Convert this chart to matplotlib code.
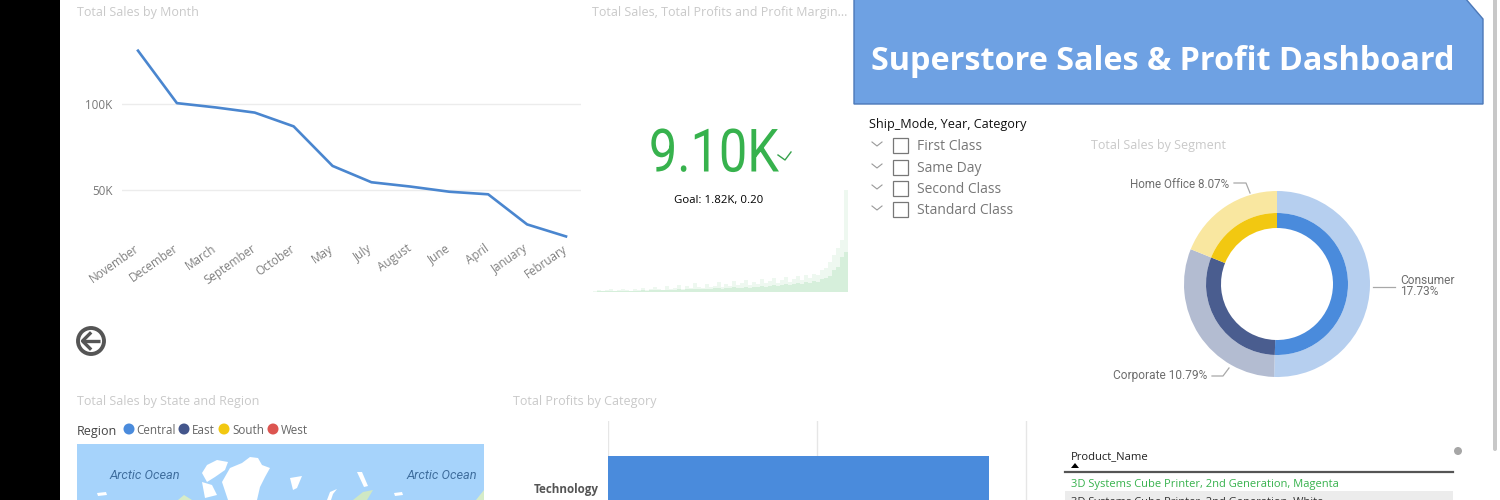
import numpy as np
import matplotlib
matplotlib.use("Agg")
import matplotlib.pyplot as plt
import matplotlib.patheffects as pe
from matplotlib.patches import Polygon, Rectangle, Circle, FancyBboxPatch
from matplotlib.transforms import Affine2D, ScaledTranslation

W, H = 1500, 500

months = ["November", "December", "March", "September", "October", "May",
          "July", "August", "June", "April", "January", "February"]
month_sales = [131, 100.5, 98, 95, 87, 64, 54.5, 52, 49, 47.5, 30, 23]
month_ticks = [50, 100]
month_tick_labels = ["50K", "100K"]

kpi_value = "9.10K"
kpi_goal = "Goal: 1.82K, 0.20"
trend_high = [1, 2, 1, 2, 3, 1, 2, 3, 2, 1, 3, 2, 4, 2, 3, 5, 3, 2, 6, 3,
              4, 7, 3, 6, 4, 9, 5, 4, 8, 5, 6, 10, 5, 8, 6, 11, 7, 9, 12, 7,
              10, 8, 13, 9, 11, 14, 9, 12, 15, 10, 13, 16, 12, 17, 14, 18, 17, 22, 24, 30,
              37, 44, 52, 102]
trend_low = [0, 1, 1, 1, 1, 1, 1, 1, 1, 1, 1, 1, 2, 1, 2, 2, 2, 2, 2, 2,
             2, 3, 2, 3, 3, 3, 3, 3, 3, 3, 4, 4, 3, 4, 4, 5, 4, 4, 5, 4,
             5, 5, 6, 5, 6, 7, 6, 7, 8, 7, 8, 9, 8, 10, 9, 11, 10, 13, 14, 16,
             22, 25, 35, 40]

ship_modes = ["First Class", "Same Day", "Second Class", "Standard Class"]

segments = ["Consumer", "Corporate", "Home Office"]
outer_share = [50.5, 30.6, 18.9]
inner_share = [50.5, 30.6, 18.9]
segment_labels = ["Consumer\n17.73%", "Corporate 10.79%", "Home Office 8.07%"]
outer_colors = ["#b6cfef", "#b3bcd1", "#f9e7a0"]
inner_colors = ["#4a8bdc", "#4a5d8f", "#f2c811"]

regions = ["Central", "East", "South", "West"]
region_colors = ["#4a8bdc", "#44568c", "#f2c811", "#dc5550"]

categories = ["Technology"]
profits = [91.2]
profit_ticks = [0, 50, 100]

products = ["3D Systems Cube Printer, 2nd Generation, Magenta",
            "3D Systems Cube Printer, 2nd Generation, White"]


class SqueezeX(pe.AbstractPathEffect):
    # narrows a text around a pixel column, there is no condensed font here
    def __init__(self, cx, sx):
        super().__init__()
        self.shift = Affine2D().translate(-cx, 0).scale(sx, 1).translate(cx, 0)

    def draw_path(self, renderer, gc, tpath, affine, rgbFace=None):
        renderer.draw_path(gc, tpath, affine + self.shift, rgbFace)


def px_axes(fig, left, top, right, bottom, **kw):
    return fig.add_axes([left / W, 1 - bottom / H, (right - left) / W, (bottom - top) / H], **kw)


fig = plt.figure(figsize=(15, 5), dpi=100, facecolor="white")
plt.rcParams["font.family"] = ["Open Sans", "DejaVu Sans"]

# page layer in pixel coordinates
bg = fig.add_axes([0, 0, 1, 1])
bg.set_xlim(0, W)
bg.set_ylim(H, 0)
bg.axis("off")
bg.add_patch(Rectangle((0, 0), 60, H, color="black", linewidth=0))
bg.add_patch(FancyBboxPatch((1493, -10), 4, 461, boxstyle="round,pad=0,rounding_size=2",
                            color="#c8c8c8", linewidth=0))

title_color = "#c9c9c9"
for x, y, s in [(77, 12.5, "Total Sales by Month"),
                (592, 12.5, "Total Sales, Total Profits and Profit Margin..."),
                (1091, 145, "Total Sales by Segment"),
                (77, 402, "Total Sales by State and Region"),
                (513, 402, "Total Profits by Category")]:
    bg.text(x, y, s, color=title_color, fontsize=9.0, va="center")

# header
bg.add_patch(Polygon([(854, -2), (1465, -2), (1483, 19), (1483, 104), (854, 104)],
                     facecolor="#6ea1e3", edgecolor="#4c78b8", linewidth=1))
bg.text(871, 61, "Superstore Sales & Profit Dashboard", color="white",
        fontsize=23.3, fontweight="bold", va="center")

# line chart
ax = px_axes(fig, 122, 20, 581, 242)
ax.patch.set_alpha(0)
ax.plot(range(len(months)), month_sales, color="#4a86cf", linewidth=1.9)
ax.set_xlim(-16 / 38.9, 11 + 15 / 38.9)
ax.set_ylim(100 - (242 - 104) * 50 / 86, 100 + (104 - 20) * 50 / 86)
ax.set_yticks(month_ticks)
ax.set_yticklabels(month_tick_labels, color="#777777", fontsize=8.4)
ax.set_xticks(range(len(months)))
ax.set_xticklabels(months, rotation=35, ha="right", rotation_mode="anchor",
                   color="#808080", fontsize=8.4)
ax.tick_params(length=0)
ax.tick_params(axis="y", pad=7)
ax.tick_params(axis="x", pad=0)
nudge = ScaledTranslation(-3 / 72, 0, fig.dpi_scale_trans)
for t in ax.get_xticklabels():
    t.set_transform(t.get_transform() + nudge)
ax.grid(axis="y", color="#ececec", linewidth=1)
ax.set_axisbelow(True)
for s in ax.spines.values():
    s.set_visible(False)

# back button
bg.add_patch(Circle((91, 341), 13, facecolor="white", edgecolor="#555555", linewidth=2.8))
bg.plot([82, 100], [341, 341], color="#555555", linewidth=2.4, solid_capstyle="butt")
bg.plot([90, 82.5, 90], [333.5, 341, 348.5], color="#555555", linewidth=2.4)

# kpi
sp = px_axes(fig, 593, 180, 848, 292)
sp.bar(range(len(trend_high)), trend_high, width=1, color="#eef8f0", linewidth=0)
sp.bar(range(len(trend_low)), trend_low, width=1, color="#d6efdb", linewidth=0)
sp.set_xlim(-0.5, len(trend_high) - 0.5)
sp.set_ylim(0, 112)
sp.axis("off")
kpi = bg.text(714, 155, kpi_value, color="#37b24d", fontsize=43, ha="center", va="center",
              family=["Roboto", "DejaVu Sans"])
kpi.set_path_effects([SqueezeX(714, 0.845)])
bg.plot([778, 785, 791], [155, 160, 152], color="#37a24d", linewidth=1)
bg.text(719, 200, kpi_goal, color="#000000", fontsize=8.2, ha="center", va="center")

# slicer
bg.text(869, 124.5, "Ship_Mode, Year, Category", color="#111111", fontsize=9.05, va="center")
for y, s in zip([145, 167, 188, 209], ship_modes):
    bg.plot([872, 877, 882], [y - 3, y + 1, y - 3], color="#999999", linewidth=0.8)
    bg.add_patch(Rectangle((893, y - 7), 15, 15, facecolor="white", edgecolor="#777777", linewidth=0.9))
    bg.text(917, y + 1.5, s, color="#777777", fontsize=10, va="center")

# donut
dn = px_axes(fig, 1177, 184, 1377, 384)
dn.pie(outer_share, radius=93, colors=outer_colors, startangle=90, counterclock=False,
       wedgeprops={"width": 22, "linewidth": 0})
dn.pie(inner_share, radius=71, colors=inner_colors, startangle=90, counterclock=False,
       wedgeprops={"width": 15, "linewidth": 0})
dn.set_xlim(-100, 100)
dn.set_ylim(-100, 100)
dn.set_aspect("equal")

leader = "#a8a8a8"
bg.plot([1373, 1395], [287, 287], color=leader, linewidth=0.9)
bg.plot([1234, 1246, 1250], [183, 183, 193], color=leader, linewidth=0.9)
bg.plot([1212, 1223, 1229], [376, 376, 368], color=leader, linewidth=0.9)
lab = dict(color="#6e6e6e", fontsize=8.6, family=["Roboto", "DejaVu Sans"], va="center")
bg.text(1400, 286, segment_labels[0], linespacing=0.85, **lab)
bg.text(1207, 375, segment_labels[1], ha="right", **lab)
bg.text(1229, 184, segment_labels[2], ha="right", fontsize=8.4,
        **{k: v for k, v in lab.items() if k != "fontsize"})

# map legend
bg.text(77, 431, "Region", color="#444444", fontsize=9, va="center")
for x, tx, c, s in zip([129, 184, 224, 273], [136, 192, 232, 281], region_colors, regions):
    bg.add_patch(Circle((x, 429), 5.5, color=c, linewidth=0))
    bg.text(tx, 431, s, color="#666666", fontsize=8.4, va="center")

# map, only the top strip is in frame
bg.add_patch(Rectangle((77, 444), 407, 56, color="#a6d3fb", linewidth=0))
land = [[(222, 482), (230, 468), (242, 463), (250, 457), (258, 458), (262, 465), (270, 468),
         (265, 477), (260, 487), (257, 500), (228, 500)],
        [(202, 473), (207, 465), (217, 460), (228, 462), (225, 470), (215, 477), (207, 482)],
        [(202, 482), (212, 485), (217, 495), (205, 498)],
        [(290, 478), (302, 476), (297, 488), (293, 490)],
        [(357, 472), (362, 472), (368, 486), (364, 487)],
        [(327, 500), (330, 492), (337, 489), (333, 494), (331, 500)],
        [(97, 493), (106, 492), (107, 495), (98, 496)],
        [(394, 493), (402, 492), (403, 495), (395, 496)]]
for poly in land:
    bg.add_patch(Polygon(poly, color="white", linewidth=0))
bg.add_patch(Polygon([(353, 500), (363, 492), (373, 490), (367, 500)], color="#cfe8c4", linewidth=0))
bg.add_patch(Polygon([(178, 500), (184, 495), (192, 500)], color="#d6ecc8", linewidth=0))
bg.add_patch(Polygon([(476, 500), (484, 490), (484, 500)], color="#d6ecc8", linewidth=0))
for x, s in [(145, "Arctic Ocean"), (441.5, "Arctic Ocean")]:
    bg.text(x, 475.5, s, color="#3f6e9e", fontsize=9.2, style="italic", ha="center", va="center",
            family=["Roboto", "DejaVu Sans"])

# bar chart
br = px_axes(fig, 608, 421, 1028, 500)
br.patch.set_alpha(0)
br.barh(range(len(categories)), profits, height=64, color="#4a8bdc")
br.set_xlim(0, 100.5)
br.set_ylim(-12, 67)
br.set_xticks(profit_ticks)
br.set_xticklabels([])
br.set_yticks(range(len(categories)))
br.set_yticklabels(categories, color="#555555", fontsize=8.4, fontweight="bold")
br.tick_params(length=0)
br.tick_params(axis="y", pad=7)
br.grid(axis="x", color="#e6e6e6", linewidth=1)
br.set_axisbelow(True)
for s in br.spines.values():
    s.set_visible(False)

# table
bg.text(1071, 456.5, "Product_Name", color="#222222", fontsize=8.1, va="center")
bg.add_patch(Polygon([(1071, 468), (1079, 468), (1075, 463)], color="black", linewidth=0))
bg.plot([1065, 1453], [472, 472], color="#555555", linewidth=1.6)
bg.add_patch(Rectangle((1065, 491), 388, 9, color="#ececec", linewidth=0))
bg.text(1071, 484, products[0], color="#37b24d", fontsize=8.0, va="center")
bg.text(1071, 502.5, products[1], color="#333333", fontsize=8.0, va="center")
bg.add_patch(Circle((1458, 451), 4, color="#a6a6a6", linewidth=0))

fig.savefig("out.png", dpi=100)
